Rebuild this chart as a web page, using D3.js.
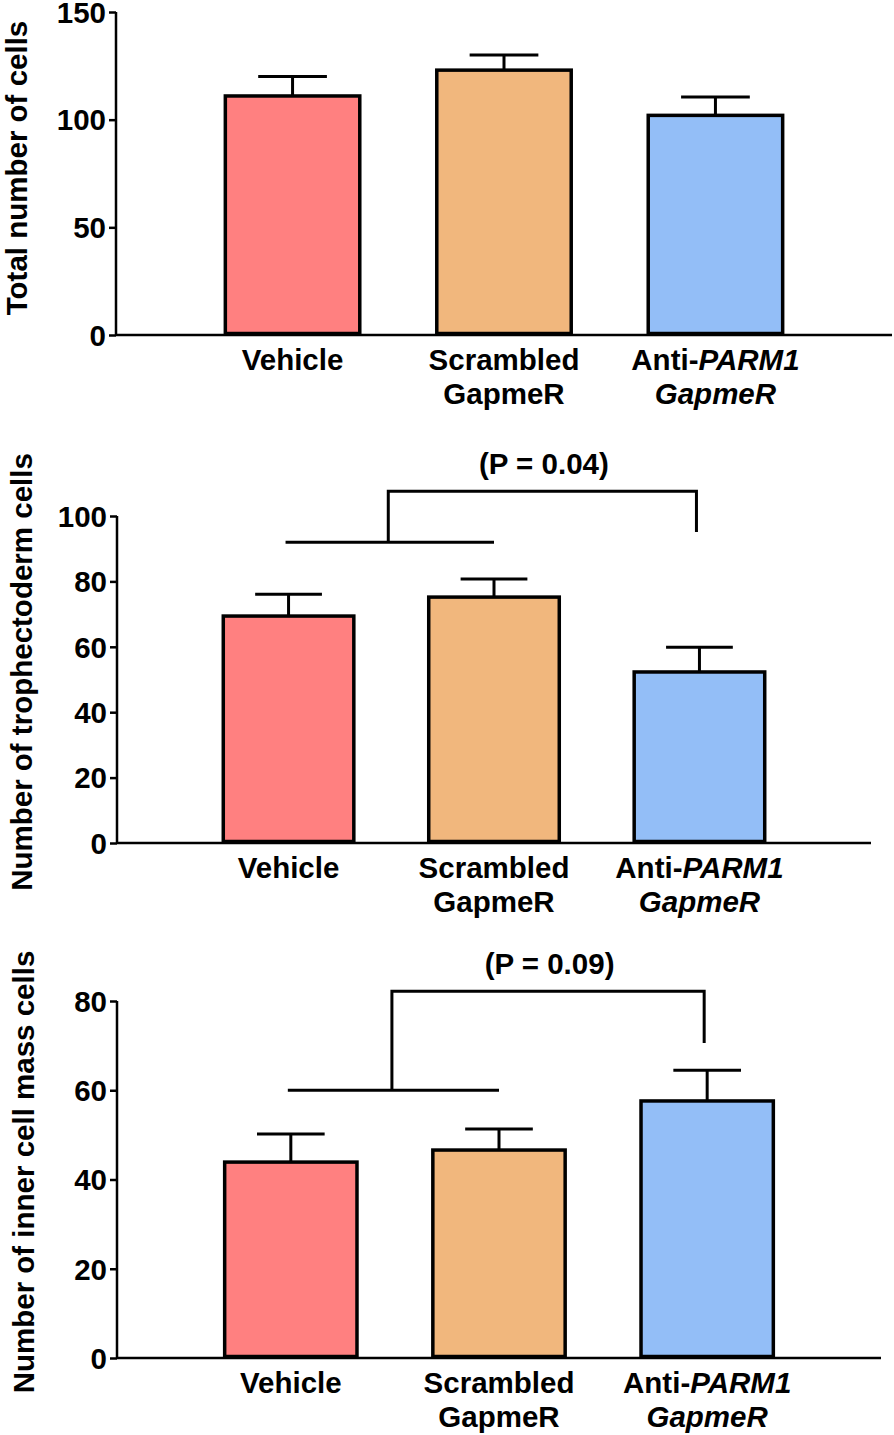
<!DOCTYPE html>
<html>
<head>
<meta charset="utf-8">
<script src="https://cdn.jsdelivr.net/npm/d3@7"></script>
<style>
  body { margin: 0; background: #fff; }
  svg { display: block; }
  text { font-family: "Liberation Sans", Arial, sans-serif; font-weight: bold; fill: #000; }
</style>
</head>
<body>
<svg id="chart" width="894" height="1435"></svg>
<script>
// ---------- data ----------
const categories = ["Vehicle", "Scrambled GapmeR", "Anti-PARM1 GapmeR"];
const barColors = ["#FF8080", "#F1B77D", "#93BEF7"];

const totalMeans = [111, 123, 102];
const totalSem = [9, 7, 8.5];
const totalTicks = [0, 50, 100, 150];

const tropMeans = [69.4, 75.2, 52.3];
const tropSem = [6.7, 5.5, 7.6];
const tropTicks = [0, 20, 40, 60, 80, 100];
const tropBracket = { low: 92, top: 107.6, rightEnd: 95.1, label: "(P = 0.04)" };

const icmMeans = [43.9, 46.6, 57.6];
const icmSem = [6.3, 4.7, 6.9];
const icmTicks = [0, 20, 40, 60, 80];
const icmBracket = { low: 60, top: 82.2, rightEnd: 70.6, label: "(P = 0.09)" };

// ---------- drawing ----------
const svg = d3.select("#chart");
const FS = 29.5;

function drawPanel(o) {
  const g = svg.append("g");
  const x = d3.scaleBand().domain(categories).range([o.x0, o.x1])
    .paddingInner(0.35).paddingOuter(0.51);
  const y = d3.scaleLinear().domain([0, o.ymax]).range([o.y0, o.ytop]);

  // y axis
  const yAxis = d3.axisLeft(y).tickValues(o.ticks).tickSize(7).tickPadding(3).tickSizeOuter(0);
  const ya = g.append("g").attr("transform", `translate(${o.x0},0)`).call(yAxis);
  ya.select(".domain").attr("stroke", "#000").attr("stroke-width", 2.5)
    .attr("d", `M0,${y(0)}V${y(o.ymax)}`);
  ya.selectAll(".tick line").attr("stroke", "#000").attr("stroke-width", 2.5);
  ya.selectAll(".tick text").attr("font-size", FS).attr("font-family", "Liberation Sans, Arial, sans-serif")
    .attr("font-weight", "bold").attr("fill", "#000").attr("dy", "0.35em");

  // bars
  g.selectAll("rect.bar").data(o.means).enter().append("rect")
    .attr("class", "bar")
    .attr("x", (d, i) => x(categories[i]) + 1.5)
    .attr("width", x.bandwidth() - 3)
    .attr("y", d => y(d))
    .attr("height", d => y(0) - y(d) - 1.5)
    .attr("fill", (d, i) => barColors[i])
    .attr("stroke", "#000").attr("stroke-width", 3.5);

  // error bars
  const cap = x.bandwidth() * 0.5;
  o.means.forEach((m, i) => {
    const cx = x(categories[i]) + x.bandwidth() / 2;
    const top = y(m + o.sem[i]);
    g.append("line").attr("x1", cx).attr("x2", cx).attr("y1", y(m)).attr("y2", top)
      .attr("stroke", "#000").attr("stroke-width", 3);
    g.append("line").attr("x1", cx - cap / 2).attr("x2", cx + cap / 2).attr("y1", top).attr("y2", top)
      .attr("stroke", "#000").attr("stroke-width", 3);
  });

  // x axis line
  g.append("line").attr("x1", o.x0).attr("x2", o.x1).attr("y1", y(0)).attr("y2", y(0))
    .attr("stroke", "#000").attr("stroke-width", 2.5);

  // category labels
  categories.forEach((c, i) => {
    const cx = x(c) + x.bandwidth() / 2;
    const t = g.append("text").attr("x", cx).attr("y", y(0) + 35)
      .attr("text-anchor", "middle").attr("font-size", FS);
    if (i === 0) {
      t.text("Vehicle");
    } else if (i === 1) {
      t.append("tspan").attr("x", cx).text("Scrambled");
      t.append("tspan").attr("x", cx).attr("dy", 34).text("GapmeR");
    } else {
      const l1 = t.append("tspan").attr("x", cx);
      l1.append("tspan").text("Anti-");
      l1.append("tspan").attr("font-style", "italic").text("PARM1");
      t.append("tspan").attr("x", cx).attr("dy", 34).attr("font-style", "italic").text("GapmeR");
    }
  });

  // y title
  g.append("text").attr("transform", `translate(${o.titleX},${o.titleY}) rotate(-90)`)
    .attr("text-anchor", "middle").attr("font-size", FS).attr("dy", "0.36em").text(o.title);

  // bracket
  if (o.bracket) {
    const b = o.bracket;
    const c0 = x(categories[0]) + x.bandwidth() / 2;
    const c1 = x(categories[1]) + x.bandwidth() / 2;
    const c2 = x(categories[2]) + x.bandwidth() / 2;
    const mid = (c0 + c1) / 2 - 3;
    g.append("path")
      .attr("d", `M${c0 - 3},${y(b.low)}H${c1}`)
      .attr("fill", "none").attr("stroke", "#000").attr("stroke-width", 3);
    g.append("path")
      .attr("d", `M${mid},${y(b.low)}V${y(b.top)}H${c2 - 3}V${y(b.rightEnd)}`)
      .attr("fill", "none").attr("stroke", "#000").attr("stroke-width", 3);
    g.append("text").attr("x", (mid + c2) / 2).attr("y", y(b.top) - 28)
      .attr("text-anchor", "middle").attr("font-size", FS).attr("dy", "0.36em").text(b.label);
  }
}

drawPanel({ x0: 116, x1: 892, y0: 335, ytop: 12, ymax: 150, ticks: totalTicks,
  means: totalMeans, sem: totalSem, title: "Total number of cells", titleX: 16, titleY: 168 });
drawPanel({ x0: 117, x1: 871, y0: 843, ytop: 516, ymax: 100, ticks: tropTicks,
  means: tropMeans, sem: tropSem, title: "Number of trophectoderm cells", titleX: 21, titleY: 672,
  bracket: tropBracket });
drawPanel({ x0: 117, x1: 881, y0: 1358, ytop: 1001, ymax: 80, ticks: icmTicks,
  means: icmMeans, sem: icmSem, title: "Number of inner cell mass cells", titleX: 23, titleY: 1172,
  bracket: icmBracket });
</script>
</body>
</html>
